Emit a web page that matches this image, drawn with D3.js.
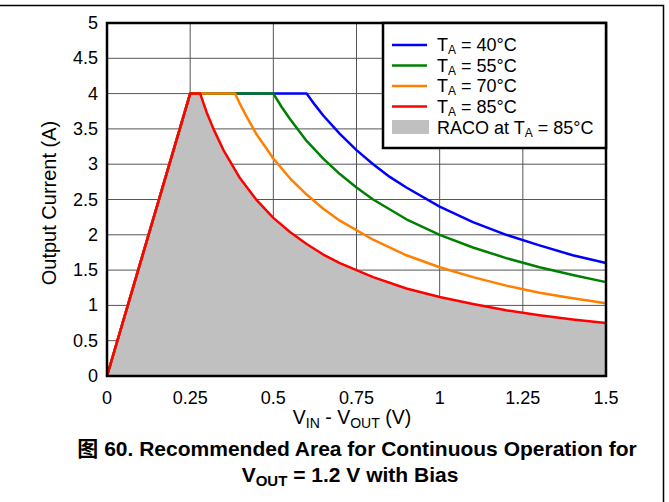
<!DOCTYPE html>
<html lang="en">
<head>
  <meta charset="utf-8">
  <title>Recommended Area for Continuous Operation</title>
  <script src="https://d3js.org/d3.v7.min.js"></script>
  <style>
    body { margin: 0; background: #fff; }
    text { font-family: "Liberation Sans", Arial, sans-serif; }
  </style>
</head>
<body>
  <svg width="669" height="502"></svg>
  <script>
    // tick values
    const xTicks = [0, 0.25, 0.5, 0.75, 1, 1.25, 1.5];
    const xTickLabels = ["0", "0.25", "0.5", "0.75", "1", "1.25", "1.5"];
    const yTicks = [0, 0.5, 1, 1.5, 2, 2.5, 3, 3.5, 4, 4.5, 5];
    const yTickLabels = ["0", "0.5", "1", "1.5", "2", "2.5", "3", "3.5", "4", "4.5", "5"];

    // series (V_IN - V_OUT, output current)
    const vin85 = [0, 0.25, 0.28, 0.3, 0.32, 0.35, 0.4, 0.45, 0.5, 0.55, 0.6, 0.65, 0.7, 0.8, 0.9, 1.0, 1.1, 1.2, 1.3, 1.4, 1.5];
    const amp85 = [0, 4, 4, 3.73, 3.5, 3.2, 2.8, 2.49, 2.24, 2.04, 1.87, 1.72, 1.6, 1.4, 1.24, 1.12, 1.02, 0.93, 0.86, 0.8, 0.75];
    const vin70 = [0, 0.25, 0.385, 0.4, 0.42, 0.45, 0.5, 0.55, 0.6, 0.65, 0.7, 0.8, 0.9, 1.0, 1.1, 1.2, 1.3, 1.4, 1.5];
    const amp70 = [0, 4, 4, 3.85, 3.67, 3.42, 3.08, 2.8, 2.57, 2.37, 2.2, 1.93, 1.71, 1.54, 1.4, 1.28, 1.18, 1.1, 1.03];
    const vin55 = [0, 0.25, 0.5, 0.525, 0.55, 0.6, 0.65, 0.7, 0.75, 0.8, 0.9, 1.0, 1.1, 1.2, 1.3, 1.4, 1.5];
    const amp55 = [0, 4, 4, 3.81, 3.64, 3.33, 3.08, 2.86, 2.67, 2.5, 2.22, 2.0, 1.82, 1.67, 1.54, 1.43, 1.33];
    const vin40 = [0, 0.25, 0.6, 0.625, 0.65, 0.7, 0.75, 0.8, 0.85, 0.9, 1.0, 1.1, 1.2, 1.3, 1.4, 1.5];
    const amp40 = [0, 4, 4, 3.84, 3.69, 3.43, 3.2, 3.0, 2.82, 2.67, 2.4, 2.18, 2.0, 1.85, 1.71, 1.6];

    const seriesTemps = ["40", "55", "70", "85"];
    const seriesColors = ["#0000ff", "#008000", "#ff7f00", "#ff0000"];

    const svg = d3.select("svg");
    const m = {left: 107, right: 606, top: 23, bottom: 376};

    const x = d3.scaleLinear().domain([0, 1.5]).range([m.left, m.right]);
    const y = d3.scaleLinear().domain([0, 5]).range([m.bottom, m.top]);

    // outer frame (top and right only)
    svg.append("path")
      .attr("d", "M0,5.5H663.5V502")
      .attr("fill", "none").attr("stroke", "#000").attr("stroke-width", 1.5);

    // grid
    const grid = svg.append("g");
    grid.selectAll(".gx").data(xTicks.slice(1, -1)).join("line")
      .attr("x1", d => x(d)).attr("x2", d => x(d))
      .attr("y1", m.top).attr("y2", m.bottom)
      .attr("stroke", "#555").attr("stroke-width", 1);
    grid.selectAll(".gy").data(yTicks.slice(1, -1)).join("line")
      .attr("x1", m.left).attr("x2", m.right)
      .attr("y1", d => y(d)).attr("y2", d => y(d))
      .attr("stroke", "#555").attr("stroke-width", 1);

    // RACO area at 85C
    const pts85 = vin85.map((v, i) => [v, amp85[i]]);
    svg.append("path")
      .datum(pts85)
      .attr("fill", "#c0c0c0")
      .attr("d", d3.area().x(d => x(d[0])).y0(y(0)).y1(d => y(d[1])));

    const line = d3.line().x(d => x(d[0])).y(d => y(d[1]));
    const allSeries = [[vin40, amp40], [vin55, amp55], [vin70, amp70], [vin85, amp85]];
    allSeries.forEach((s, k) => {
      svg.append("path")
        .datum(s[0].map((v, i) => [v, s[1][i]]))
        .attr("fill", "none")
        .attr("stroke", seriesColors[k])
        .attr("stroke-width", 2.5)
        .attr("stroke-linejoin", "round")
        .attr("d", line);
    });

    // plot border
    svg.append("rect")
      .attr("x", m.left).attr("y", m.top)
      .attr("width", m.right - m.left).attr("height", m.bottom - m.top)
      .attr("fill", "none").attr("stroke", "#000").attr("stroke-width", 2.5);

    // tick labels
    svg.selectAll(".xl").data(xTicks).join("text")
      .attr("x", d => x(d)).attr("y", 404)
      .attr("text-anchor", "middle").attr("font-size", 18)
      .text((d, i) => xTickLabels[i]);
    svg.selectAll(".yl").data(yTicks).join("text")
      .attr("x", 98).attr("y", d => y(d) + 6)
      .attr("text-anchor", "end").attr("font-size", 18)
      .text((d, i) => yTickLabels[i]);

    // axis titles
    const xt = svg.append("text")
      .attr("x", 352).attr("y", 424)
      .attr("text-anchor", "middle").attr("font-size", 19.5);
    xt.append("tspan").text("V");
    xt.append("tspan").attr("font-size", 14).attr("dy", 4).text("IN");
    xt.append("tspan").attr("dy", -4).text(" - V");
    xt.append("tspan").attr("font-size", 14).attr("dy", 4).text("OUT");
    xt.append("tspan").attr("dy", -4).text(" (V)");

    svg.append("text")
      .attr("transform", "translate(56,203) rotate(-90)")
      .attr("text-anchor", "middle").attr("font-size", 20)
      .text("Output Current (A)");

    // legend
    const lg = svg.append("g");
    lg.append("rect")
      .attr("x", 383).attr("y", 23).attr("width", 223).attr("height", 125)
      .attr("fill", "#fff").attr("stroke", "#000").attr("stroke-width", 2.5);
    seriesTemps.forEach((tmp, i) => {
      const yy = 45 + i * 20.5;
      lg.append("line")
        .attr("x1", 392).attr("x2", 427).attr("y1", yy).attr("y2", yy)
        .attr("stroke", seriesColors[i]).attr("stroke-width", 2.5);
      const t = lg.append("text").attr("x", 437).attr("y", yy + 6).attr("font-size", 18);
      t.append("tspan").text("T");
      t.append("tspan").attr("font-size", 12).attr("dy", 3).text("A");
      t.append("tspan").attr("dy", -3).text(" = " + tmp + "°C");
    });
    lg.append("rect")
      .attr("x", 392).attr("y", 120).attr("width", 37).attr("height", 14)
      .attr("fill", "#c0c0c0");
    const rt = lg.append("text").attr("x", 437).attr("y", 134).attr("font-size", 18);
    rt.append("tspan").text("RACO at T");
    rt.append("tspan").attr("font-size", 12).attr("dy", 3).text("A");
    rt.append("tspan").attr("dy", -3).text(" = 85°C");

    // caption
    const c1 = svg.append("text")
      .attr("x", 357).attr("y", 456)
      .attr("text-anchor", "middle").attr("font-size", 21).attr("font-weight", "bold");
    c1.append("tspan").attr("font-family", "'Noto Sans CJK SC', sans-serif").text("图");
    c1.append("tspan").text(" 60. Recommended Area for Continuous Operation for");
    const c2 = svg.append("text")
      .attr("x", 350).attr("y", 482)
      .attr("text-anchor", "middle").attr("font-size", 21).attr("font-weight", "bold");
    c2.append("tspan").text("V");
    c2.append("tspan").attr("font-size", 15).attr("dy", 4).text("OUT");
    c2.append("tspan").attr("dy", -4).text(" = 1.2 V with Bias");
  </script>
</body>
</html>
